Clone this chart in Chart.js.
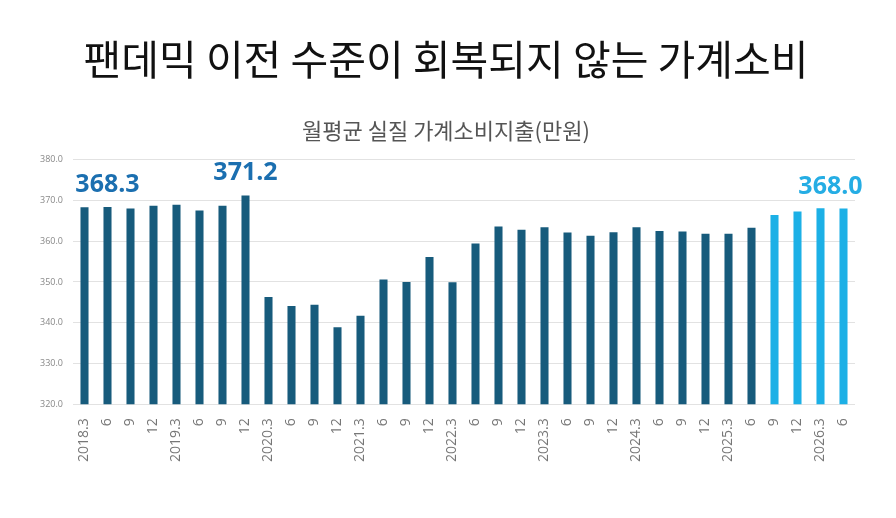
<!DOCTYPE html>
<html>
<head>
<meta charset="utf-8">
<script src="https://cdn.jsdelivr.net/npm/chart.js"></script>
<style>
  html, body { margin: 0; padding: 0; background: #fff; }
  #wrap { width: 896px; height: 518px; }
</style>
</head>
<body>
<div id="wrap"><canvas id="chart"></canvas></div>
<script>
const quarters = ['2018.3', '6', '9', '12', '2019.3', '6', '9', '12', '2020.3', '6', '9', '12',
  '2021.3', '6', '9', '12', '2022.3', '6', '9', '12', '2023.3', '6', '9', '12',
  '2024.3', '6', '9', '12', '2025.3', '6', '9', '12', '2026.3', '6'];
const spending = [368.3, 368.4, 368.0, 368.7, 368.9, 367.5, 368.7, 371.2,
  346.3, 344.1, 344.4, 338.9, 341.7, 350.6, 350.0, 356.1, 349.9, 359.4,
  363.6, 362.8, 363.4, 362.1, 361.3, 362.2, 363.4, 362.5, 362.4, 361.8,
  361.8, 363.3, 366.4, 367.3, 368.1, 368.0];
const forecastFrom = 30;          // 2025.9 onward
const callouts = [0, 7, 33];      // bars with a value written above
const yTicks = [320, 330, 340, 350, 360, 370, 380];

const DARK = '#175b7c';
const LIGHT = '#1cb0e6';

const barColors = spending.map((v, i) => i >= forecastFrom ? LIGHT : DARK);

// value callouts above selected bars
const calloutPlugin = {
  id: 'callouts',
  afterDatasetsDraw(chart) {
    const meta = chart.getDatasetMeta(0);
    const ctx = chart.ctx;
    const shift = { 0: 23, 7: 0, 33: -13 };
    ctx.save();
    ctx.font = 'bold 25px "Open Sans", sans-serif';
    ctx.textAlign = 'center';
    ctx.textBaseline = 'alphabetic';
    callouts.forEach(i => {
      const bar = meta.data[i];
      ctx.fillStyle = i >= forecastFrom ? '#25ade4' : '#1b6fb0';
      ctx.fillText(spending[i].toFixed(1), bar.x + (shift[i] || 0), bar.y - 15);
    });
    ctx.restore();
  }
};

new Chart(document.getElementById('chart'), {
  type: 'bar',
  data: {
    labels: quarters,
    datasets: [{
      data: spending,
      backgroundColor: barColors,
      barPercentage: 0.7,
      categoryPercentage: 0.5
    }]
  },
  plugins: [calloutPlugin],
  options: {
    responsive: true,
    maintainAspectRatio: false,
    animation: false,
    layout: { padding: { left: 37, right: 41, bottom: 50, top: 0 } },
    plugins: {
      legend: { display: false },
      tooltip: { enabled: false },
      title: {
        display: true,
        text: '팬데믹 이전 수준이 회복되지 않는 가계소비',
        color: '#111',
        font: { family: '"Noto Sans CJK KR", sans-serif', size: 41, weight: 'normal' },
        padding: { top: 35, bottom: 17 }
      },
      subtitle: {
        display: true,
        text: '월평균 실질 가계소비지출(만원)',
        color: '#555',
        font: { family: '"Noto Sans CJK KR", sans-serif', size: 22 },
        padding: { top: 16, bottom: 16 }
      }
    },
    scales: {
      x: {
        grid: { display: false },
        border: { display: false },
        ticks: {
          color: '#777',
          font: { family: '"Open Sans", sans-serif', size: 14 },
          minRotation: 90,
          maxRotation: 90,
          autoSkip: false,
          padding: 6
        }
      },
      y: {
        min: 320,
        max: 380,
        afterBuildTicks(axis) { axis.ticks = yTicks.map(v => ({ value: v })); },
        afterFit(axis) { axis.width = 36; },
        grid: { color: '#e2e2e2', lineWidth: 1, drawTicks: false },
        border: { display: false },
        ticks: {
          color: '#888',
          font: { family: '"Open Sans", sans-serif', size: 9 },
          padding: 10,
          callback: v => Number(v).toFixed(1)
        }
      }
    }
  }
});
</script>
</body>
</html>
